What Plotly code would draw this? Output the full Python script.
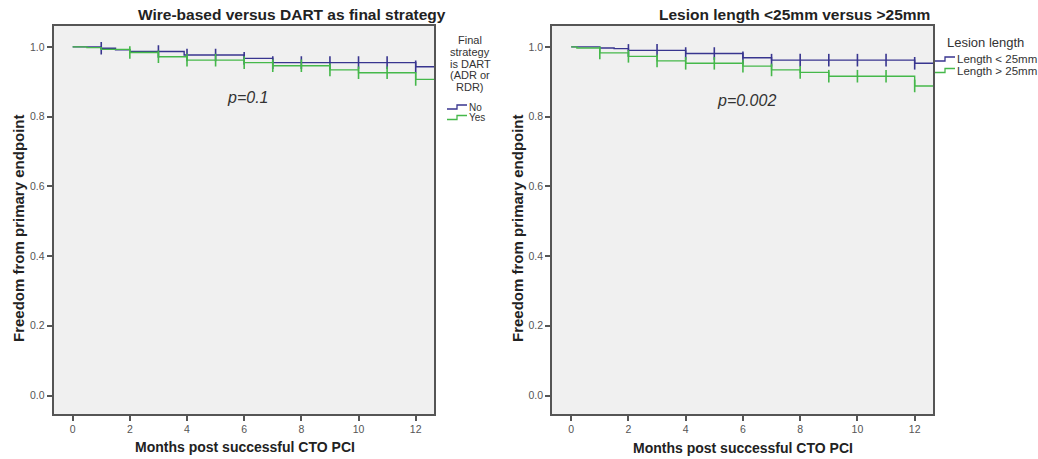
import plotly.graph_objects as go
import numpy as np

# ---------------- data ----------------
# Left panel: Wire-based versus DART as final strategy
left_no_t = [0, 1.0, 1.5, 2.0, 3.9, 6.0, 7.0, 12.0, 12.7]
left_no_s = [1.0, 0.996, 0.992, 0.987, 0.977, 0.967, 0.955, 0.943, 0.943]
left_no_cens = [1, 3, 4, 5, 6, 7, 8, 9, 10, 11, 12]

left_yes_t = [0, 0.5, 1.0, 2.0, 3.0, 4.0, 6.0, 7.0, 9.0, 10.0, 12.0, 12.7]
left_yes_s = [1.0, 0.998, 0.993, 0.984, 0.972, 0.962, 0.955, 0.946, 0.934, 0.926, 0.907, 0.907]
left_yes_cens = [2, 3, 4, 5, 6, 7, 8, 9, 10, 11, 12]

# Right panel: Lesion length <25mm versus >25mm
right_lt_t = [0, 1.0, 1.5, 2.0, 4.0, 6.0, 7.0, 12.0, 12.7]
right_lt_s = [1.0, 0.997, 0.995, 0.990, 0.981, 0.969, 0.962, 0.953, 0.953]
right_lt_cens = [2, 3, 4, 5, 6, 7, 8, 9, 10, 11, 12]

right_gt_t = [0, 0.2, 1.0, 2.0, 3.0, 4.0, 6.0, 7.0, 8.0, 9.0, 12.0, 12.7]
right_gt_s = [1.0, 0.997, 0.983, 0.973, 0.960, 0.953, 0.945, 0.934, 0.927, 0.916, 0.888, 0.888]
right_gt_cens = [1, 2, 3, 4, 5, 6, 7, 8, 9, 10, 11, 12]

x_ticks = [0, 2, 4, 6, 8, 10, 12]
y_ticks = [0.0, 0.2, 0.4, 0.6, 0.8, 1.0]

titles = ["Wire-based versus DART as final strategy", "Lesion length <25mm versus >25mm"]
x_title = "Months post successful CTO PCI"
y_title = "Freedom from primary endpoint"
p_values = ["p=0.1", "p=0.002"]
left_legend_title = ["Final", "strategy", "is DART", "(ADR or", "RDR)"]
left_legend_items = ["No", "Yes"]
right_legend_title = "Lesion length"
right_legend_items = ["Length < 25mm", "Length > 25mm"]

BLUE = "#38358f"
GREEN = "#45b84a"
W, H = 1038, 459
FONT = "Liberation Sans, Arial, sans-serif"


def step_value(ts, ss, t):
    idx = np.searchsorted(np.array(ts), t, side="right") - 1
    return ss[idx]


fig = go.Figure()

panels = [
    ("x", "y", left_no_t, left_no_s, left_no_cens, left_yes_t, left_yes_s, left_yes_cens),
    ("x2", "y2", right_lt_t, right_lt_s, right_lt_cens, right_gt_t, right_gt_s, right_gt_cens),
]
for xa, ya, t1, s1, c1, t2, s2, c2 in panels:
    for t, s, c, col in [(t1, s1, c1, BLUE), (t2, s2, c2, GREEN)]:
        fig.add_trace(go.Scatter(x=t, y=s, mode="lines", line=dict(color=col, width=1.4, shape="hv"),
                                 xaxis=xa, yaxis=ya, showlegend=False, hoverinfo="skip"))
        fig.add_trace(go.Scatter(x=c, y=[step_value(t, s, v) for v in c], mode="markers",
                                 marker=dict(symbol="line-ns", size=9, line=dict(color=col, width=1.6)),
                                 xaxis=xa, yaxis=ya, showlegend=False, hoverinfo="skip"))

ydom = [1 - 414 / H, 1 - 26 / H]
xdoms = [[53.5 / W, 434 / W], [552 / W, 933 / W]]

axis_common = dict(showline=True, mirror=True, linecolor="#555555", linewidth=1.5,
                   ticks="outside", ticklen=5, tickwidth=1.5, tickcolor="#555555",
                   showgrid=False, zeroline=False,
                   tickfont=dict(family=FONT, size=10.5, color="#555555"))

fig.update_layout(
    width=W, height=H, margin=dict(l=0, r=0, t=0, b=0),
    paper_bgcolor="white", plot_bgcolor="#f0f0f0",
    xaxis=dict(domain=xdoms[0], range=[-0.67, 12.64], tickvals=x_ticks, anchor="y", **axis_common),
    yaxis=dict(domain=ydom, range=[-0.053, 1.06], tickvals=y_ticks, tickformat=".1f", anchor="x", **axis_common),
    xaxis2=dict(domain=xdoms[1], range=[-0.67, 12.64], tickvals=x_ticks, anchor="y2", **axis_common),
    yaxis2=dict(domain=ydom, range=[-0.053, 1.06], tickvals=y_ticks, tickformat=".1f", anchor="x2", **axis_common),
    showlegend=False,
)


def px(x):
    return x / W


def py(y):
    return 1 - y / H


def ann(text, x, y, size, color="#222222", bold=False, italic=False, angle=0, xanchor="center"):
    if bold:
        text = "<b>" + text + "</b>"
    if italic:
        text = "<i>" + text + "</i>"
    fig.add_annotation(text=text, x=px(x), y=py(y), xref="paper", yref="paper", showarrow=False,
                       xanchor=xanchor, yanchor="middle", textangle=angle,
                       font=dict(family=FONT, size=size, color=color))


# titles
ann(titles[0], 292, 15, 15.5, bold=True)
ann(titles[1], 794, 15, 15.5, bold=True)
# axis titles
ann(x_title, 245, 447, 14, bold=True)
ann(x_title, 743, 448, 14, bold=True)
ann(y_title, 18, 228, 15, bold=True, angle=-90)
ann(y_title, 517, 228, 15, bold=True, angle=-90)
# p values
ann(p_values[0], 247, 97, 16, color="#333333", italic=True)
ann(p_values[1], 746, 100, 16, color="#333333", italic=True)

# left legend
for line, yy in zip(left_legend_title, [40, 52, 63.5, 75, 87]):
    ann(line, 470, yy, 11, color="#333333")
for item, yy, col in zip(left_legend_items, [107, 117.5], [BLUE, GREEN]):
    ann(item, 467, yy, 10, color="#333333", xanchor="left")

# right legend
ann(right_legend_title, 985, 42, 13, color="#333333")
for item, yy, col in zip(right_legend_items, [59, 70.5], [BLUE, GREEN]):
    ann(item, 955, yy, 11.5, color="#333333", xanchor="left")


def glyph(x0, yc, col, w=20):
    pts = [(x0, yc + 2), (x0 + w * 0.5, yc + 2), (x0 + w * 0.5, yc - 2), (x0 + w, yc - 2)]
    path = "M " + " L ".join(f"{px(a)},{py(b)}" for a, b in pts)
    fig.add_shape(type="path", path=path, xref="paper", yref="paper",
                  line=dict(color=col, width=1.3))


glyph(447, 107, BLUE)
glyph(447, 117.5, GREEN)
glyph(935, 59, BLUE)
glyph(935, 70.5, GREEN)

fig.write_html("out.html", config={"displayModeBar": False},
               post_script="document.body.style.margin='0';document.body.style.overflow='hidden';")
